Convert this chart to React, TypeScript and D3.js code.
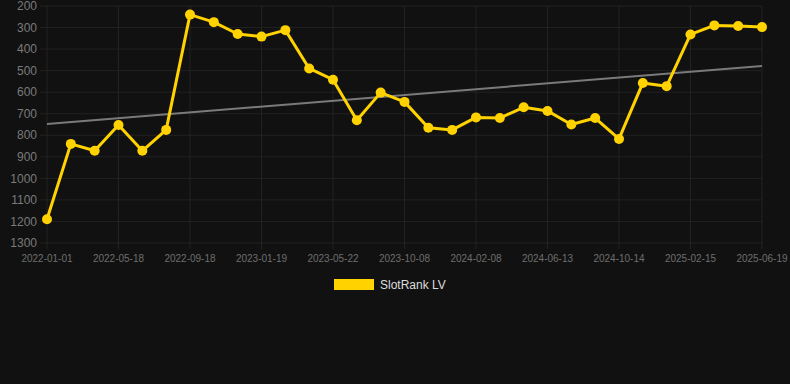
import React from "react";
import * as d3 from "d3";

const categories: string[] = [
  "2022-01-01", "2022-02-15", "2022-04-01", "2022-05-18", "2022-06-28", "2022-08-08",
  "2022-09-18", "2022-10-29", "2022-12-09", "2023-01-19", "2023-03-01", "2023-04-11",
  "2023-05-22", "2023-07-07", "2023-08-22", "2023-10-08", "2023-11-18", "2023-12-29",
  "2024-02-08", "2024-03-20", "2024-05-02", "2024-06-13", "2024-07-24", "2024-09-03",
  "2024-10-14", "2024-11-24", "2025-01-05", "2025-02-15", "2025-03-28", "2025-05-09",
  "2025-06-19",
];

const tickLabels: string[] = [
  "2022-01-01", "2022-05-18", "2022-09-18", "2023-01-19", "2023-05-22", "2023-10-08",
  "2024-02-08", "2024-06-13", "2024-10-14", "2025-02-15", "2025-06-19",
];

const rankValues: number[] = [
  1190, 840, 872, 752, 872, 775, 240, 275, 330, 342, 312, 490, 542, 730, 602, 645,
  765, 775, 717, 720, 670, 687, 750, 720, 817, 557, 572, 332, 290, 293, 298,
];

const trendValues: number[] = [748, 478];

const yTicks: number[] = [200, 300, 400, 500, 600, 700, 800, 900, 1000, 1100, 1200, 1300];

const W = 790;
const H = 384;

export default function App() {
  const x = d3.scalePoint<string>().domain(categories).range([47, 762]);
  const y = d3.scaleLinear().domain([200, 1300]).range([6, 243]);

  const line = d3
    .line<number>()
    .x((_, i) => x(categories[i]) as number)
    .y((d) => y(d));

  const trendX = [x(categories[0]) as number, x(categories[categories.length - 1]) as number];

  return (
    <div style={{ width: W, height: H, background: "#111111" }}>
      <style>{`html,body{margin:0;padding:0;background:#111111;overflow:hidden;}`}</style>
      <svg width={W} height={H} style={{ display: "block", fontFamily: "Arial, Liberation Sans, sans-serif" }}>
        <rect x={0} y={0} width={W} height={H} fill="#111111" />
        {yTicks.map((t) => (
          <g key={t}>
            <line x1={40} x2={762} y1={y(t)} y2={y(t)} stroke="#222222" strokeWidth={1} />
            <text x={37} y={y(t)} dy="0.35em" textAnchor="end" fill="#7a7a7a" fontSize={12}>
              {t}
            </text>
          </g>
        ))}
        {tickLabels.map((t) => (
          <g key={t}>
            <line x1={x(t)} x2={x(t)} y1={6} y2={249} stroke="#222222" strokeWidth={1} />
            <text x={x(t)} y={262} textAnchor="middle" fill="#6e6e6e" fontSize={10}>
              {t}
            </text>
          </g>
        ))}
        <line
          x1={trendX[0]}
          x2={trendX[1]}
          y1={y(trendValues[0])}
          y2={y(trendValues[1])}
          stroke="#7a7a7a"
          strokeWidth={2}
        />
        <path d={line(rankValues) as string} fill="none" stroke="#FFD200" strokeWidth={3} strokeLinejoin="round" />
        {rankValues.map((v, i) => (
          <circle key={i} cx={x(categories[i])} cy={y(v)} r={5} fill="#FFD200" />
        ))}
        <rect x={334} y={279} width={40} height={11} fill="#FFD200" />
        <text x={380} y={285} dy="0.35em" fill="#dddddd" fontSize={12}>
          SlotRank LV
        </text>
      </svg>
    </div>
  );
}
